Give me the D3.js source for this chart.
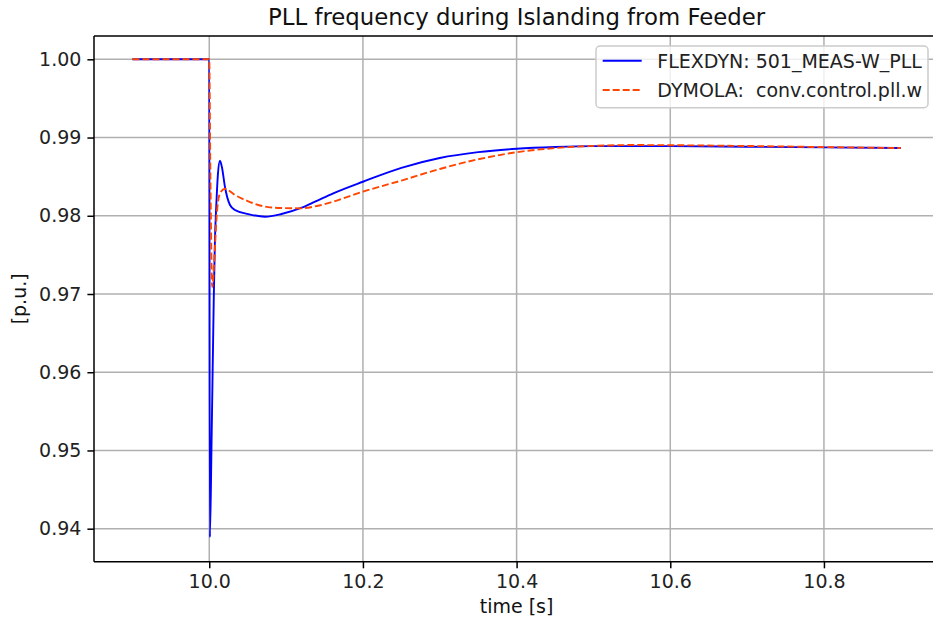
<!DOCTYPE html>
<html><head><meta charset="utf-8">
<script src="https://cdn.jsdelivr.net/npm/d3@7"></script>
<style>body{margin:0;background:#fff;} svg{display:block;font-family:"DejaVu Sans",sans-serif;}</style>
</head><body>
<script>
const title = "PLL frequency during Islanding from Feeder";
const xLabel = "time [s]";
const yLabel = "[p.u.]";
const seriesNames = ["FLEXDYN: 501_MEAS-W_PLL", "DYMOLA:  conv.control.pll.w"];
const xTicks = [10.0, 10.2, 10.4, 10.6, 10.8];
const yTicks = [0.94, 0.95, 0.96, 0.97, 0.98, 0.99, 1.00];

const flexT = [9.9, 10.0, 10.0008, 10.003, 10.0058, 10.0074, 10.0091, 10.0112, 10.0139, 10.0165, 10.0204, 10.027, 10.0335, 10.0508, 10.0725, 10.094, 10.1203, 10.1377, 10.1614, 10.2, 10.25, 10.3, 10.35, 10.4, 10.45, 10.5, 10.6, 10.7, 10.8, 10.9];
const flexV = [1.0, 1.0, 0.9389, 0.951, 0.969, 0.9769, 0.9812, 0.9852, 0.98704, 0.9862, 0.98371, 0.98137, 0.98074, 0.98022, 0.97988, 0.98022, 0.98103, 0.9818, 0.98287, 0.98435, 0.98612, 0.98738, 0.98813, 0.98856, 0.98879, 0.98890, 0.9889, 0.98882, 0.98874, 0.98866];

const dymT = [9.9, 10.0, 10.0015, 10.0039, 10.0074, 10.0096, 10.0139, 10.0204, 10.0335, 10.0508, 10.0768, 10.0963, 10.118, 10.14, 10.161, 10.2, 10.25, 10.3, 10.35, 10.4, 10.45, 10.5, 10.55, 10.6, 10.7, 10.8, 10.9];
const dymV = [1.0, 1.0, 0.985, 0.9709, 0.9760, 0.9799, 0.98287, 0.98345, 0.98265, 0.98185, 0.9811, 0.98098, 0.98095, 0.98125, 0.9818, 0.98308, 0.98450, 0.98598, 0.98722, 0.98812, 0.98866, 0.98893, 0.98904, 0.98902, 0.98892, 0.98878, 0.98866];

const W = 933, H = 625;
const L = 94, R = 939.2, T = 36, B = 561.7;
const svg = d3.select("body").append("svg").attr("width", W).attr("height", H);

const x = d3.scaleLinear().domain([9.85, 10.95]).range([L, R]);
const y = d3.scaleLinear().domain([0.93578, 1.00298]).range([B, T]);

const g = svg.append("g");
// grid
g.selectAll(".gx").data(xTicks).join("line")
  .attr("x1", d => x(d)).attr("x2", d => x(d)).attr("y1", T).attr("y2", B)
  .attr("stroke", "#b0b0b0").attr("stroke-width", 1.5);
g.selectAll(".gy").data(yTicks).join("line")
  .attr("y1", d => y(d)).attr("y2", d => y(d)).attr("x1", L).attr("x2", R)
  .attr("stroke", "#b0b0b0").attr("stroke-width", 1.5);

svg.append("clipPath").attr("id", "c").append("rect")
  .attr("x", L).attr("y", T).attr("width", R - L).attr("height", B - T);

const line = d3.line().x(d => x(d[0])).y(d => y(d[1])).curve(d3.curveMonotoneX);
const plot = svg.append("g").attr("clip-path", "url(#c)");
plot.append("path").datum(flexT.map((t, i) => [t, flexV[i]]))
  .attr("d", line).attr("fill", "none").attr("stroke", "#0000ff").attr("stroke-width", 1.9)
  .attr("stroke-linejoin", "round");
plot.append("path").datum(dymT.map((t, i) => [t, dymV[i]]))
  .attr("d", line).attr("fill", "none").attr("stroke", "#ff4500").attr("stroke-width", 1.9)
  .attr("stroke-dasharray", "7,3");

// axes
const xAxis = d3.axisBottom(x).tickValues(xTicks).tickFormat(d3.format(".1f")).tickSize(6.6).tickPadding(6);
const yAxis = d3.axisLeft(y).tickValues(yTicks).tickFormat(d3.format(".2f")).tickSize(6.6).tickPadding(6);
const xa = svg.append("g").attr("transform", `translate(0,${B})`).call(xAxis);
const ya = svg.append("g").attr("transform", `translate(${L},0)`).call(yAxis);
[xa, ya].forEach(a => {
  a.select(".domain").remove();
  a.selectAll(".tick line").attr("stroke", "#000").attr("stroke-width", 1.5);
  a.selectAll(".tick text").attr("font-size", 19).attr("fill", "#222").attr("font-family", "DejaVu Sans");
});
// spines
[[L, T, L, B], [L, B, R, B], [L, T, R, T], [R, T, R, B]].forEach(s => {
  svg.append("line").attr("x1", s[0]).attr("y1", s[1]).attr("x2", s[2]).attr("y2", s[3])
    .attr("stroke", "#000").attr("stroke-width", 1.5);
});

// title and labels
svg.append("text").attr("x", (L + R) / 2).attr("y", 25).attr("text-anchor", "middle")
  .attr("font-size", 22.8).attr("fill", "#111").text(title);
svg.append("text").attr("x", (L + R) / 2).attr("y", 613).attr("text-anchor", "middle")
  .attr("font-size", 19).attr("fill", "#111").text(xLabel);
svg.append("text").attr("transform", `translate(26,${(T + B) / 2}) rotate(-90)`).attr("text-anchor", "middle")
  .attr("font-size", 19).attr("fill", "#111").text(yLabel);

// legend
const lg = svg.append("g");
lg.append("rect").attr("x", 596).attr("y", 46).attr("width", 332).attr("height", 61.7).attr("rx", 4)
  .attr("fill", "#fff").attr("fill-opacity", 0.8).attr("stroke", "#cccccc").attr("stroke-width", 1.5);
const colors = ["#0000ff", "#ff4500"];
const dashes = [null, "7,3"];
seriesNames.forEach((n, i) => {
  const yy = 60.7 + i * 29.3;
  lg.append("line").attr("x1", 602.7).attr("x2", 641.7).attr("y1", yy).attr("y2", yy)
    .attr("stroke", colors[i]).attr("stroke-width", 1.9).attr("stroke-dasharray", dashes[i]);
  lg.append("text").attr("x", 657.3).attr("y", yy + 7).attr("font-size", 19).attr("fill", "#222")
    .attr("xml:space", "preserve").style("white-space", "pre").text(n);
});
</script>
</body></html>
